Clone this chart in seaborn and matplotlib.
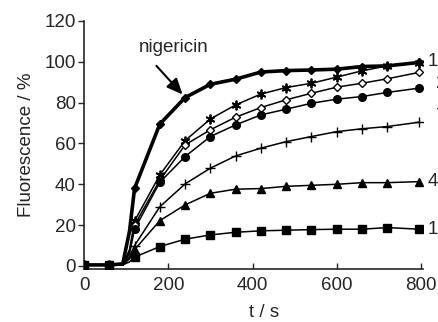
import numpy as np
import pandas as pd
import matplotlib
matplotlib.use("Agg")
import matplotlib.pyplot as plt
import seaborn as sns

# time points (s); markers sit every 60 s, the extra points only shape the rise
t_line = [0, 60, 92, 108, 120, 180, 240, 300, 360, 420, 480, 540, 600, 660, 720, 795]
t_mark = [0, 60, 120, 180, 240, 300, 360, 420, 480, 540, 600, 660, 720, 795]

nigericin = [0.5, 0.5, 1, 17, 38, 69.5, 82.5, 89, 91.5, 95, 95.7, 96, 96.4, 97.7, 98, 99.7]
star = [0.5, 0.5, 0.5, 8, 22, 44.6, 61.4, 72, 78.9, 84.2, 87.4, 89.5, 92.5, 95.6, 98, 99.5]
diamond = [0.5, 0.5, 0.5, 7, 20, 42, 59.3, 66.7, 72.9, 77.6, 81.4, 84.6, 87.6, 89.5, 91.7, 94.8]
circle = [0.5, 0.5, 0.5, 6, 18, 41, 53.6, 63.4, 69.1, 74, 76.8, 79.7, 81.7, 83, 85, 87.1]
plus = [0.5, 0.5, 0.5, 4.5, 10, 29, 40.2, 47.9, 53.9, 57.7, 60.9, 63.4, 65.8, 67.2, 68.3, 70.4]
triangle = [0.5, 0.5, 0.5, 3.5, 8, 22.2, 29.9, 35.6, 37.6, 37.9, 39, 39.5, 40, 40.8, 40.8, 41.3]
square = [0.5, 0.5, 0.5, 2, 4.3, 9.5, 13.1, 15.2, 16.5, 17.2, 17.5, 17.8, 18, 18, 18.8, 18]

# end labels (mostly cut off by the figure edge in the original)
end_labels = ["10", "5", "2", "1", "7", "4", "1"]
end_label_y = [100, 94.5, 89.5, 82.5, 73, 41.5, 18]
end_label_t = [815, 836, 836, 836, 836, 815, 815]

sns.set_style("ticks")
plt.rcParams["font.family"] = ["Liberation Sans", "DejaVu Sans"]
plt.rcParams["font.size"] = 13.5

fig = plt.figure(figsize=(4.38, 3.22), dpi=100)
ax = fig.add_axes([0.1918, 0.1646, 0.7742, 0.7702])

series = [
    (nigericin, "D", 4, "k", 2.6, 1.0),
    (star, (6, 2, 0), 7, "k", 1.1, 1.3),
    (diamond, "D", 4.5, "white", 1.1, 1.0),
    (circle, "o", 5.5, "k", 1.1, 1.0),
    (plus, "+", 7, "k", 1.1, 1.0),
    (triangle, "^", 6, "k", 1.1, 1.0),
    (square, "s", 5.5, "k", 1.1, 1.0),
]

for vals, mk, ms, face, lw, mew in series:
    df = pd.DataFrame({"t": t_line, "F": vals})
    sns.lineplot(data=df, x="t", y="F", color="k", lw=lw, ax=ax, sort=True)
    dm = df[df["t"].isin(t_mark)]
    ax.plot(dm["t"], dm["F"], ls="none", marker=mk, ms=ms, mfc=face,
            mec="k", mew=mew, zorder=3)

ax.text(214, 107, "nigericin", ha="center", va="center", fontsize=13.5)
ax.annotate("", xy=(234, 84), xytext=(172, 98),
            arrowprops=dict(arrowstyle="-|>,head_length=0.8,head_width=0.35",
                            color="k", lw=1.5, mutation_scale=12,
                            shrinkA=0, shrinkB=0))

for lab, yv, tv in zip(end_labels, end_label_y, end_label_t):
    ax.text(tv, yv, lab, va="center", ha="left", fontsize=13.5, clip_on=False)

ax.set_xlim(0, 805)
ax.set_ylim(-1.5, 120)
ax.set_xticks([0, 200, 400, 600, 800])
ax.set_yticks([0, 20, 40, 60, 80, 100, 120])
ax.tick_params(axis="x", direction="in", length=4, width=1, pad=6)
ax.tick_params(axis="y", direction="out", length=4, width=1, pad=2)
for s in ["left", "bottom"]:
    ax.spines[s].set_linewidth(1.2)
sns.despine(ax=ax)

ax.set_xlabel("t / s")
ax.set_ylabel("Fluorescence / %")
ax.xaxis.set_label_coords(0.53, -0.14)
ax.yaxis.set_label_coords(-0.145, 0.5)

fig.savefig("out.png", dpi=100)
